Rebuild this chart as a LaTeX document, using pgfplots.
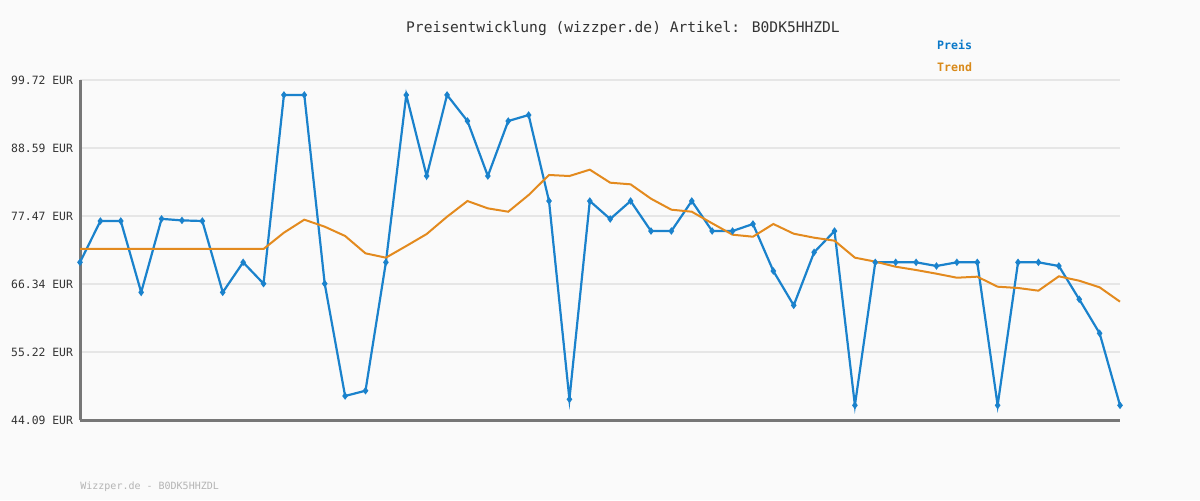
\documentclass[border=0pt]{standalone}
\usepackage{fontspec}
\setmainfont{DejaVu Sans Mono}
\usepackage{pgfplots}
\pgfplotsset{compat=1.18}

\definecolor{bg}{HTML}{FAFAFA}
\definecolor{preis}{HTML}{1A82CC}
\definecolor{trend}{HTML}{E38A1E}
\definecolor{preisleg}{HTML}{0A78C8}
\definecolor{trendleg}{HTML}{D98A1A}
\definecolor{axisgray}{HTML}{777777}
\definecolor{gridgray}{HTML}{E6E6E6}
\definecolor{titlegray}{HTML}{333333}
\definecolor{footgray}{HTML}{B4B4B4}

% 1 px of the reference = 0.5pt
\begin{document}
\begin{tikzpicture}
  \fill[bg] (0,0) rectangle (600pt,250pt);

  \begin{axis}[
      at={(40pt,40pt)}, anchor=south west,
      scale only axis,
      width=520pt, height=170pt,
      xmin=0, xmax=51,
      ymin=44.09, ymax=99.72,
      xtick=\empty,
      ytick={44.09,55.22,66.34,77.47,88.59,99.72},
      yticklabels={44.09 EUR,55.22 EUR,66.34 EUR,77.47 EUR,88.59 EUR,99.72 EUR},
      yticklabel style={font=\fontsize{5.7pt}{6pt}\selectfont, text=titlegray},
      major tick length=0pt,
      axis lines*=left,
      axis line style={draw=axisgray, line width=1.5pt, -},
      ymajorgrids,
      grid style={draw=gridgray, line width=1pt},
      clip=false,
      legend image code/.code={},
      legend cell align=left,
      legend style={at={(0.82,1.129)}, anchor=north west, draw=none, fill=none,
        font=\fontsize{5.8pt}{6pt}\selectfont\bfseries, row sep=0.7pt, inner sep=0pt},
    ]

    % Preis
    \addplot[color=preis, line width=1.1pt, mark=diamond*, mark size=1pt,
      mark options={solid}]
    coordinates {
        (0,69.89)(1,76.65)(2,76.65)(3,64.98)(4,77.00)(5,76.75)(6,76.65)(7,64.98)
        (8,69.89)(9,66.40)(10,97.27)(11,97.27)(12,66.40)(13,48.02)(14,48.88)(15,69.89)
        (16,97.27)(17,84.01)(18,97.27)(19,93.01)(20,84.01)(21,93.01)(22,93.99)(23,79.92)
        (24,47.48)(25,79.92)(26,76.98)(27,79.92)(28,75.01)(29,75.01)(30,79.92)(31,75.01)
        (32,75.01)(33,76.16)(34,68.47)(35,62.85)(36,71.53)(37,75.01)(38,46.49)(39,69.89)
        (40,69.89)(41,69.89)(42,69.29)(43,69.89)(44,69.89)(45,46.49)(46,69.89)(47,69.89)
        (48,69.29)(49,63.84)(50,58.28)(51,46.49)
      };
    \addlegendentry{\textcolor{preisleg}{Preis}}

    % Trend
    \addplot[color=trend, line width=1pt, mark=none]
    coordinates {
        (0,72.07)(1,72.07)(2,72.07)(3,72.07)(4,72.07)(5,72.07)(6,72.07)(7,72.07)
        (8,72.07)(9,72.07)(10,74.74)(11,76.87)(12,75.72)(13,74.20)(14,71.36)(15,70.65)
        (16,72.56)(17,74.52)(18,77.35)(19,79.92)(20,78.72)(21,78.17)(22,80.90)(23,84.18)
        (24,84.01)(25,85.05)(26,82.92)(27,82.65)(28,80.30)(29,78.50)(30,78.17)(31,76.27)
        (32,74.41)(33,74.08)(34,76.16)(35,74.57)(36,73.92)(37,73.43)(38,70.65)(39,70.00)
        (40,69.17)(41,68.63)(42,68.03)(43,67.37)(44,67.54)(45,65.90)(46,65.69)(47,65.25)
        (48,67.60)(49,66.88)(50,65.80)(51,63.45)
      };
    \addlegendentry{\textcolor{trendleg}{Trend}}
  \end{axis}

  \node[text=titlegray, font=\fontsize{7.3pt}{8pt}\selectfont] at (311.5pt,236pt)
    {Preisentwicklung (wizzper.de) Artikel: B0DK5HHZDL};
  \node[text=footgray, font=\fontsize{5pt}{6pt}\selectfont, anchor=west, inner sep=0pt]
    at (40pt,6.5pt) {Wizzper.de - B0DK5HHZDL};
\end{tikzpicture}
\end{document}
